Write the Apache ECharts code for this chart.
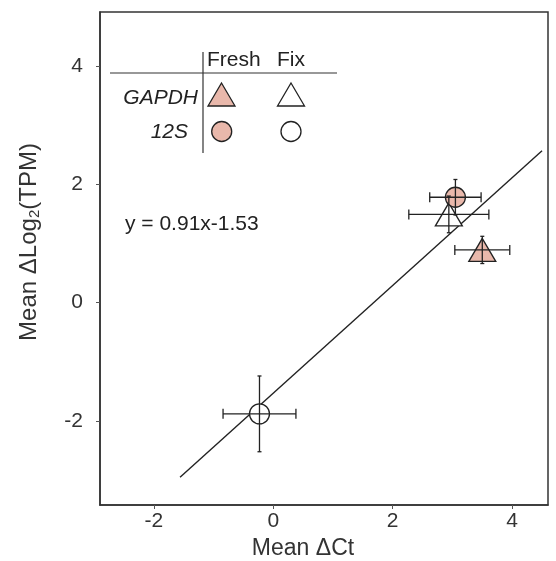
<!DOCTYPE html>
<html>
<head>
<meta charset="utf-8">
<script src="https://cdn.jsdelivr.net/npm/echarts@6/dist/echarts.min.js"></script>
<style>
  html, body { margin: 0; padding: 0; background: #fff; }
  #chart { width: 556px; height: 561px; }
</style>
</head>
<body>
<div id="chart"></div>
<script>
// Tick values shown on each axis
const xTicks = [-2, 0, 2, 4];
const yTicks = [-2, 0, 2, 4];

// Mean ΔCt / mean ΔLog2(TPM) for each gene and sample type
const gapdhFresh = [[3.50, 0.89]];
const gapdhFix   = [[2.94, 1.49]];
const s12Fresh   = [[3.05, 1.78]];
const s12Fix     = [[-0.23, -1.88]];

// Error bars: [x, y, xErr, yErr]
const errorBars = [
  [3.50, 0.89, 0.46, 0.23],
  [2.94, 1.49, 0.67, 0.31],
  [3.05, 1.78, 0.43, 0.30],
  [-0.23, -1.88, 0.61, 0.64]
];

// Fitted line y = slope * x + intercept over this x span
const fitSlope = 0.91;
const fitIntercept = -1.53;
const fitRange = [-1.56, 4.5];

const FONT = '"Liberation Sans", Arial, sans-serif';
const PINK = '#e9b8ab';
const INK = '#222';
const AXIS = '#333';

const fitLine = fitRange.map(x => [x, fitSlope * x + fitIntercept]);

const chart = echarts.init(document.getElementById('chart'), null, { renderer: 'canvas' });

function markerStyle(fill) {
  return { color: fill, borderColor: INK, borderWidth: 1.3, opacity: 1 };
}

const axisCommon = {
  type: 'value',
  axisLine: { show: true, onZero: false, lineStyle: { color: AXIS, width: 1.5 } },
  splitLine: { show: false }
};

const option = {
  animation: false,
  backgroundColor: '#fff',
  grid: {
    left: 100, right: 8, top: 12, bottom: 56,
    show: true, borderColor: AXIS, borderWidth: 1.5, backgroundColor: 'transparent'
  },
  xAxis: Object.assign({}, axisCommon, {
    min: -2.9, max: 4.6,
    axisTick: { show: true, inside: false, length: 4, customValues: xTicks, lineStyle: { color: '#555' } },
    axisLabel: { customValues: xTicks, fontFamily: FONT, fontSize: 21, color: '#333', margin: 6 }
  }),
  yAxis: Object.assign({}, axisCommon, {
    min: -3.42, max: 4.91,
    axisTick: { show: true, inside: false, length: 4, customValues: yTicks, lineStyle: { color: '#555' } },
    axisLabel: { customValues: yTicks, fontFamily: FONT, fontSize: 21, color: '#333', margin: 17 }
  }),
  series: [
    {
      type: 'line', data: fitLine, symbol: 'none', z: 2,
      lineStyle: { color: INK, width: 1.4 }
    },
    {
      type: 'scatter', data: gapdhFix, symbol: 'triangle', symbolSize: [27, 23], z: 3,
      itemStyle: markerStyle('#fff')
    },
    {
      type: 'scatter', data: s12Fix, symbol: 'circle', symbolSize: 20, z: 3,
      itemStyle: markerStyle('#fff')
    },
    {
      type: 'scatter', data: gapdhFresh, symbol: 'triangle', symbolSize: [27, 23], z: 3,
      itemStyle: markerStyle(PINK)
    },
    {
      type: 'scatter', data: s12Fresh, symbol: 'circle', symbolSize: 20, z: 3,
      itemStyle: markerStyle(PINK)
    },
    {
      type: 'custom', z: 5, data: errorBars,
      renderItem: function (params, api) {
        const x = api.value(0), y = api.value(1), ex = api.value(2), ey = api.value(3);
        const c = api.coord([x, y]);
        const l = api.coord([x - ex, y]), r = api.coord([x + ex, y]);
        const t = api.coord([x, y + ey]), b = api.coord([x, y - ey]);
        const hc = 5, vc = 2;
        const st = { stroke: INK, lineWidth: 1.3 };
        const seg = (x1, y1, x2, y2) => ({ type: 'line', shape: { x1, y1, x2, y2 }, style: st });
        return {
          type: 'group',
          children: [
            seg(l[0], c[1], r[0], c[1]),
            seg(l[0], c[1] - hc, l[0], c[1] + hc),
            seg(r[0], c[1] - hc, r[0], c[1] + hc),
            seg(c[0], t[1], c[0], b[1]),
            seg(c[0] - vc, t[1], c[0] + vc, t[1]),
            seg(c[0] - vc, b[1], c[0] + vc, b[1])
          ]
        };
      }
    }
  ],
  graphic: [
    // axis titles
    {
      type: 'text', x: 303, y: 549,
      style: { text: 'Mean ΔCt', font: '23px ' + FONT, fill: '#333', align: 'center', verticalAlign: 'middle' }
    },
    {
      type: 'text', x: 29, y: 242, rotation: Math.PI / 2,
      style: {
        text: 'Mean ΔLog{sub|2}(TPM)', font: '24px ' + FONT, fill: '#333',
        align: 'center', verticalAlign: 'middle',
        rich: { sub: { font: '15px ' + FONT, fill: '#333', padding: [12, 0, 0, 0] } }
      }
    },
    // symbol key table
    { type: 'line', shape: { x1: 110, y1: 73, x2: 337, y2: 73 }, style: { stroke: '#333', lineWidth: 1.2 } },
    { type: 'line', shape: { x1: 203, y1: 52, x2: 203, y2: 153 }, style: { stroke: '#333', lineWidth: 1.2 } },
    { type: 'text', left: 207, top: 50, style: { text: 'Fresh', font: '21px ' + FONT, fill: '#222' } },
    { type: 'text', left: 277, top: 50, style: { text: 'Fix', font: '21px ' + FONT, fill: '#222' } },
    { type: 'text', right: 556 - 198, top: 88, style: { text: 'GAPDH', font: 'italic 21px ' + FONT, fill: '#222' } },
    { type: 'text', right: 556 - 188, top: 122, style: { text: '12S', font: 'italic 21px ' + FONT, fill: '#222' } },
    { type: 'polygon', shape: { points: [[221.5, 83], [235, 106], [208, 106]] }, style: { fill: PINK, stroke: INK, lineWidth: 1.3 } },
    { type: 'polygon', shape: { points: [[291, 83], [304.5, 106], [277.5, 106]] }, style: { fill: '#fff', stroke: INK, lineWidth: 1.3 } },
    { type: 'circle', shape: { cx: 221.7, cy: 131.5, r: 10 }, style: { fill: PINK, stroke: INK, lineWidth: 1.3 } },
    { type: 'circle', shape: { cx: 291, cy: 131.5, r: 10 }, style: { fill: '#fff', stroke: INK, lineWidth: 1.3 } },
    // fit equation
    { type: 'text', left: 125, top: 214, style: { text: 'y = ' + fitSlope + 'x' + fitIntercept, font: '21px ' + FONT, fill: '#222' } }
  ]
};

chart.setOption(option);
</script>
</body>
</html>
